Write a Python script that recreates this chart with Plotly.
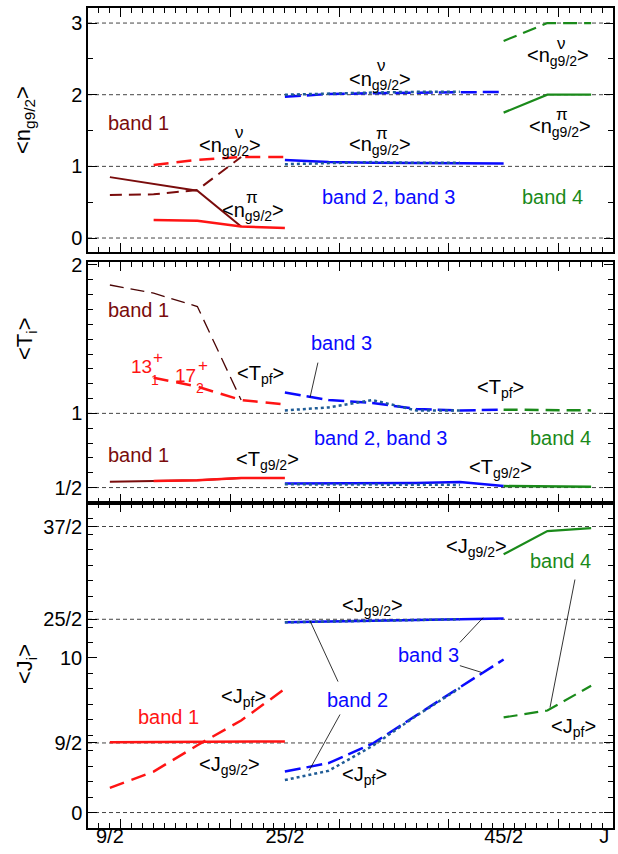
import plotly.graph_objects as go

# ---------------- data ----------------
J_b1a = [4.5, 6.5, 8.5, 10.5]          # band 1 (dark red part)
J_b1b = [6.5, 8.5, 10.5, 12.5]         # band 1 (red part)
J_b1 = [4.5, 6.5, 8.5, 10.5, 12.5]     # band 1 (bottom panel)
J_b3 = [12.5, 14.5, 16.5, 18.5, 20.5, 22.5]
J_b2 = [12.5, 14.5, 16.5, 18.5, 20.5]
J_b4 = [22.5, 24.5, 26.5]

# <n_g9/2>
n_pi_b1a = [0.85, 0.76, 0.66, 0.16]
n_nu_b1a = [0.60, 0.61, 0.67, 1.13]
n_nu_b1b = [1.02, 1.09, 1.13, 1.13]
n_pi_b1b = [0.25, 0.24, 0.16, 0.14]
n_nu_b3 = [1.97, 2.01, 2.02, 2.03, 2.04, 2.04]
n_pi_b3 = [1.09, 1.06, 1.05, 1.05, 1.04, 1.04]
n_nu_b2 = [2.00, 2.02, 2.03, 2.04, 2.04]
n_pi_b2 = [1.03, 1.05, 1.06, 1.05, 1.05]
n_nu_b4 = [2.75, 3.00, 3.00]
n_pi_b4 = [1.75, 2.00, 2.00]

# <T_i>
T_pf_b1a = [1.865, 1.81, 1.72, 1.09]
T_pf_b1b = [1.24, 1.18, 1.09, 1.06]
T_g_b1a = [0.54, 0.545, 0.55, 0.565]
T_g_b1b = [0.545, 0.55, 0.565, 0.565]
T_pf_b3 = [1.14, 1.09, 1.07, 1.03, 1.02, 1.025]
T_pf_b2 = [1.02, 1.04, 1.09, 1.02, 1.02]
T_g_b3 = [0.528, 0.528, 0.529, 0.531, 0.538, 0.51]
T_g_b2 = [0.522, 0.522, 0.522, 0.521, 0.518]
T_pf_b4 = [1.025, 1.02, 1.02]
T_g_b4 = [0.51, 0.505, 0.505]

# <J_i>
Jg_b1 = [4.55, 4.57, 4.58, 4.60, 4.60]
Jpf_b1 = [1.6, 2.65, 4.35, 5.95, 8.0]
Jg_b3 = [12.3, 12.35, 12.4, 12.45, 12.5, 12.55]
Jg_b2 = [12.3, 12.35, 12.4, 12.45, 12.5]
Jpf_b3 = [2.65, 3.2, 4.45, 6.3, 8.1, 9.9]
Jpf_b2 = [2.1, 2.7, 4.3, 6.25, 8.05]
Jg_b4 = [16.7, 18.2, 18.4]
Jpf_b4 = [6.15, 6.6, 8.2]

# tick labels
x_tickvals = [4.5, 12.5, 22.5, 27.1]
x_ticktext = ["9/2", "25/2", "45/2", "J"]
y1_tickvals = [0, 1, 2, 3]
y1_ticktext = ["0", "1", "2", "3"]
y2_tickvals = [0.5, 1, 2]
y2_ticktext = ["1/2", "1", "2"]
y3_tickvals = [0, 4.5, 10, 12.5, 18.5]
y3_ticktext = ["0", "9/2", "10", "25/2", "37/2"]

# reference (dashed) levels
ref1 = [0, 1, 2, 3]
ref2 = [0.5, 1]
ref3 = [0, 4.5, 12.5, 18.5]

# ---------------- styles ----------------
MAROON = "#7a0c0c"
DARKM = "#4a0505"
RED = "#ff1414"
BLUE = "#0a0aff"
DOT = "#1f5c96"
GREEN = "#1a8a1a"
FONT = "Liberation Sans, Arial, sans-serif"

fig = go.Figure()


def line(x, y, ax, color, width=2.5, dash="solid"):
    fig.add_trace(go.Scatter(x=x, y=y, xaxis=ax[0], yaxis=ax[1], mode="lines",
                             line=dict(color=color, width=width, dash=dash),
                             hoverinfo="skip", showlegend=False))


A1, A2, A3 = ("x", "y"), ("x2", "y2"), ("x3", "y3")
DASH_R = "15px,8px"
DASH_B = "16px,6px"
DOTS = "3px,3px"

# top panel
line(J_b1a, n_pi_b1a, A1, MAROON, 2)
line(J_b1a, n_nu_b1a, A1, MAROON, 2, "12px,7px")
line(J_b1b, n_nu_b1b, A1, RED, 2.5, DASH_R)
line(J_b1b, n_pi_b1b, A1, RED, 2.5)
line(J_b3, n_nu_b3, A1, BLUE, 2.5, DASH_B)
line(J_b3, n_pi_b3, A1, BLUE, 2.5)
line(J_b2, n_nu_b2, A1, DOT, 2.5, DOTS)
line(J_b2, n_pi_b2, A1, DOT, 2.5, DOTS)
line(J_b4, n_nu_b4, A1, GREEN, 2.2, "14px,7px")
line(J_b4, n_pi_b4, A1, GREEN, 2.2)

# middle panel
line(J_b1a, T_pf_b1a, A2, DARKM, 1.3, "14px,7px")
line(J_b1b, T_pf_b1b, A2, RED, 2.5, DASH_R)
line(J_b1a, T_g_b1a, A2, MAROON, 2)
line(J_b1b, T_g_b1b, A2, RED, 2.5)
line(J_b3, T_pf_b3, A2, BLUE, 2.5, DASH_B)
line(J_b2, T_pf_b2, A2, DOT, 2.5, DOTS)
line(J_b3, T_g_b3, A2, BLUE, 2.5)
line(J_b2, T_g_b2, A2, DOT, 2.5, DOTS)
line(J_b4, T_pf_b4, A2, GREEN, 2.5, "14px,7px")
line(J_b4, T_g_b4, A2, GREEN, 2.5)

# bottom panel
line(J_b1, Jg_b1, A3, RED, 2.5)
line(J_b1, Jpf_b1, A3, RED, 2.5, DASH_R)
line(J_b3, Jg_b3, A3, BLUE, 2.5)
line(J_b2, Jg_b2, A3, DOT, 2.5, DOTS)
line(J_b3, Jpf_b3, A3, BLUE, 2.5, DASH_B)
line(J_b2, Jpf_b2, A3, DOT, 2.5, DOTS)
line(J_b4, Jg_b4, A3, GREEN, 2.2)
line(J_b4, Jpf_b4, A3, GREEN, 2.2, "14px,7px")

# dummy trace for the label-only x axis
fig.add_trace(go.Scatter(x=[None], y=[None], xaxis="x4", yaxis="y3",
                         mode="lines", showlegend=False, hoverinfo="skip"))

# ---------------- layout ----------------
XR = [3.5, 27.5]
L, R, T, B = 88, 613, 8, 828
W, H = R - L, B - T


def dom(top_px, bot_px):
    return [(B - bot_px) / H, (B - top_px) / H]


xcommon = dict(range=XR, showline=True, linecolor="black", linewidth=1.5,
               mirror="ticks", ticks="inside", ticklen=9, tickwidth=1.2,
               tickcolor="black", tickmode="array", tickvals=[5, 10, 15, 20, 25],
               showticklabels=False, showgrid=False, zeroline=False,
               minor=dict(ticks="inside", ticklen=5, tickwidth=1, tickcolor="black",
                          tickmode="linear", tick0=3.5, dtick=0.5, showgrid=False))

ycommon = dict(showline=True, linecolor="black", linewidth=1.5, mirror="ticks",
               ticks="inside", ticklen=9, tickwidth=1.2, tickcolor="black",
               tickmode="array", showgrid=False, zeroline=False,
               tickfont=dict(family=FONT, size=20, color="black"))

fig.update_layout(
    width=618, height=854,
    margin=dict(l=L, r=618 - R, t=T, b=854 - B, autoexpand=False),
    paper_bgcolor="white", plot_bgcolor="white",
    font=dict(family=FONT, size=20, color="black"),
    showlegend=False,
    xaxis=dict(xcommon, anchor="y", domain=[0, 1]),
    xaxis2=dict(xcommon, anchor="y2", domain=[0, 1]),
    xaxis3=dict(xcommon, anchor="y3", domain=[0, 1]),
    xaxis4=dict(range=XR, overlaying="x3", anchor="free", position=6 / H,
                side="bottom", showline=False, ticks="", showgrid=False,
                zeroline=False, tickmode="array", tickvals=x_tickvals,
                ticktext=x_ticktext, ticklabelstandoff=0, automargin=False,
                tickfont=dict(family=FONT, size=20, color="black")),
    yaxis=dict(ycommon, anchor="x", domain=dom(8, 252), range=[-0.195, 3.21],
               tickvals=y1_tickvals, ticktext=y1_ticktext,
               minor=dict(ticks="inside", ticklen=5, tickwidth=1, tickcolor="black",
                          tickmode="linear", tick0=0, dtick=0.5)),
    yaxis2=dict(ycommon, anchor="x2", domain=dom(262, 503), range=[0.396, 2.02],
                tickvals=y2_tickvals, ticktext=y2_ticktext,
                minor=dict(ticks="inside", ticklen=5, tickwidth=1, tickcolor="black",
                           tickmode="linear", tick0=0, dtick=0.1)),
    yaxis3=dict(ycommon, anchor="x3", domain=dom(503, 828), range=[-1, 20.02],
                tickvals=y3_tickvals, ticktext=y3_ticktext,
                minor=dict(ticks="inside", ticklen=5, tickwidth=1, tickcolor="black",
                           tickmode="linear", tick0=0, dtick=1)),
)

# dashed reference lines
shapes = []
for ax, vals in (("", ref1), ("2", ref2), ("3", ref3)):
    for v in vals:
        shapes.append(dict(type="line", xref="x%s domain" % ax, yref="y%s" % ax,
                           x0=0, x1=1, y0=v, y1=v, layer="below",
                           line=dict(color="#444", width=1, dash="4px,3px")))

# leader lines (data coordinates of each panel)
leaders = [
    ("2", (14.01, 1.342), (13.65, 1.107)),
    ("3", (25.76, 15.07), (24.62, 6.79)),
    ("3", (20.5, 11.0), (21.56, 12.6)),
    ("3", (20.5, 9.5), (21.5, 9.06)),
    ("3", (13.65, 12.4), (14.93, 8.47)),
    ("3", (15.02, 6.34), (13.6, 2.7)),
]
for ax, p0, p1 in leaders:
    shapes.append(dict(type="line", xref="x" + ax, yref="y" + ax,
                       x0=p0[0], y0=p0[1], x1=p1[0], y1=p1[1],
                       line=dict(color="black", width=0.8)))
fig.update_layout(shapes=shapes)

# ---------------- annotations ----------------
anns = []


def ann(text, x, y, color="black", size=20, angle=0):
    anns.append(dict(text=text, x=(x - L) / W, y=(B - y) / H, xref="paper", yref="paper",
                     xanchor="center", yanchor="middle", showarrow=False,
                     textangle=angle, font=dict(family=FONT, size=size, color=color)))


NG = "&lt;n<sub>g9/2</sub>&gt;"
# top panel
ann("band 1", 138, 123, MAROON)
ann(NG, 230, 146)
ann("ν", 239, 132, size=17)
ann(NG, 253, 211)
ann("π", 252, 197, size=17)
ann(NG, 380, 81)
ann("ν", 381, 66, size=17)
ann(NG, 380, 145)
ann("π", 382, 133, size=17)
ann(NG, 558, 56)
ann("ν", 561, 43, size=17)
ann(NG, 560, 127)
ann("π", 562, 114, size=17)
ann("band 2, band 3", 388, 197, BLUE)
ann("band 4", 552, 197, GREEN)

# middle panel
ann("band 1", 138, 310, MAROON)
ann("13", 141, 367, RED, 19)
ann("1", 155, 380, RED, 14)
ann("+", 158, 357, RED, 17)
ann("17", 185, 376, RED, 19)
ann("2", 200, 388, RED, 14)
ann("+", 203, 365, RED, 17)
ann("&lt;T<sub>pf</sub>&gt;", 260, 375)
ann("band 1", 138, 455, MAROON)
ann("&lt;T<sub>g9/2</sub>&gt;", 267, 460)
ann("band 3", 341, 343, BLUE)
ann("&lt;T<sub>pf</sub>&gt;", 500, 388)
ann("band 2, band 3", 380, 438, BLUE)
ann("band 4", 560, 438, GREEN)
ann("&lt;T<sub>g9/2</sub>&gt;", 500, 468)

# bottom panel
ann("&lt;J<sub>pf</sub>&gt;", 243, 697)
ann("band 1", 168, 717, RED)
ann("&lt;J<sub>g9/2</sub>&gt;", 229, 765)
ann("&lt;J<sub>g9/2</sub>&gt;", 476, 548)
ann("band 4", 560, 561, GREEN)
ann("&lt;J<sub>g9/2</sub>&gt;", 372, 606)
ann("band 3", 428, 655, BLUE)
ann("band 2", 357, 700, BLUE)
ann("&lt;J<sub>pf</sub>&gt;", 364, 775)
ann("&lt;J<sub>pf</sub>&gt;", 573, 727)

# y-axis titles
ann(NG, 24, 120, size=22, angle=-90)
ann("&lt;T<sub>i</sub>&gt;", 26, 339, size=22, angle=-90)
ann("&lt;J<sub>i</sub>&gt;", 26, 664, size=22, angle=-90)

fig.update_layout(annotations=anns)

fig.write_html("out.html", config={"displayModeBar": False},
               post_script="document.body.style.margin='0px';"
                           "document.body.style.overflow='hidden';")
